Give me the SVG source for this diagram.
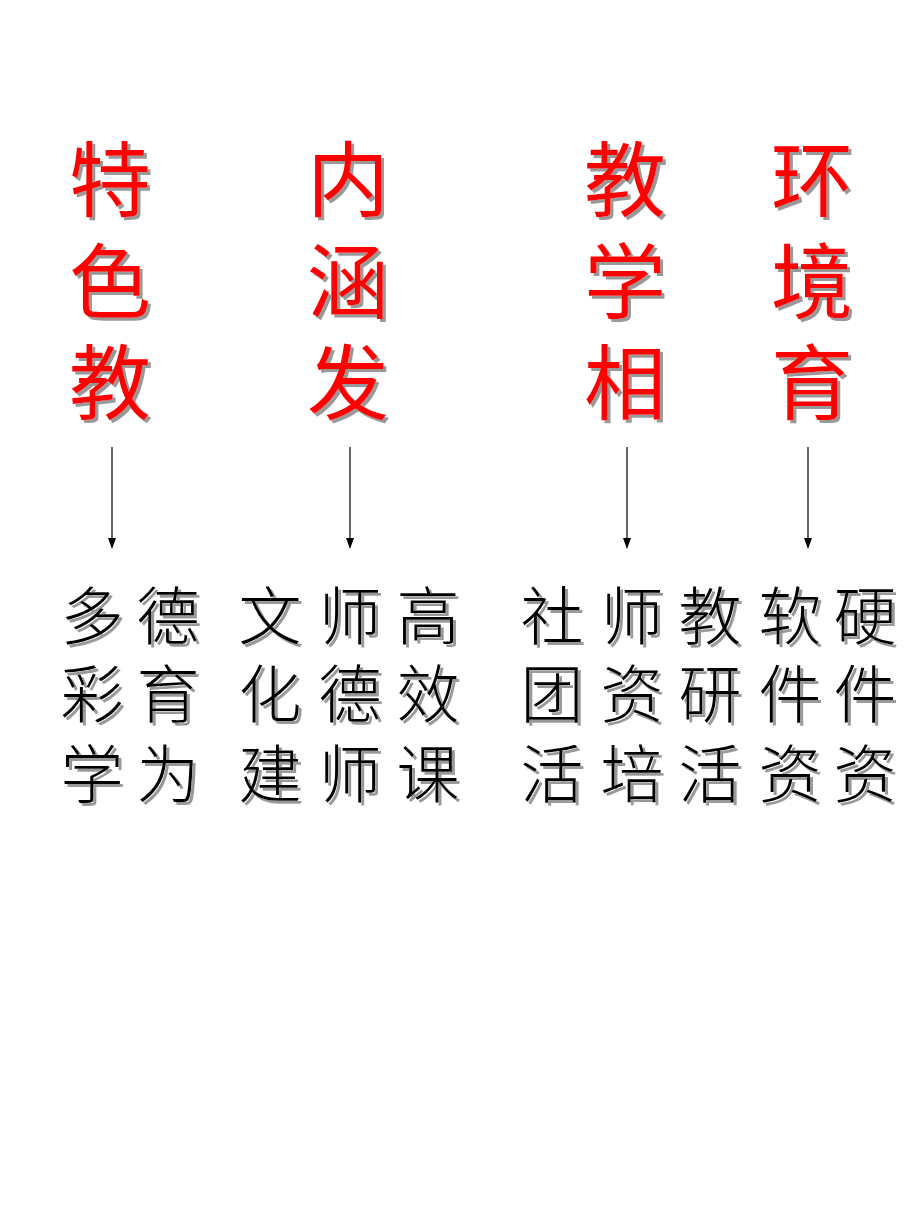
<svg xmlns="http://www.w3.org/2000/svg" width="920" height="1227" viewBox="0 0 920 1227">
<defs>
<filter id="sh" x="-20%" y="-20%" width="140%" height="140%">
<feOffset in="SourceAlpha" dx="3" dy="3" result="o"/>
<feFlood flood-color="#999"/>
<feComposite in2="o" operator="in" result="s"/>
<feMerge><feMergeNode in="s"/><feMergeNode in="SourceGraphic"/></feMerge>
</filter>
<style>
.r{font-family:"Noto Sans CJK SC",sans-serif;font-size:82px;fill:#ff0000;text-anchor:middle;filter:url(#sh)}
.b{font-family:"Noto Sans CJK SC",sans-serif;font-size:63px;font-weight:300;fill:#000;text-anchor:middle;filter:url(#sh)}
.c{stroke:#000;stroke-width:1.2}
</style>
</defs>
<rect width="920" height="1227" fill="#fff"/>
<g id="h1"><text class="r" x="110" y="210">特</text><text class="r" x="110" y="312">色</text><text class="r" x="110" y="413">教</text></g>
<g id="h2"><text class="r" x="348" y="210">内</text><text class="r" x="348" y="312">涵</text><text class="r" x="348" y="413">发</text></g>
<g id="h3"><text class="r" x="625" y="210">教</text><text class="r" x="625" y="312">学</text><text class="r" x="625" y="413">相</text></g>
<g id="h4"><text class="r" x="812" y="210">环</text><text class="r" x="812" y="312">境</text><text class="r" x="812" y="413">育</text></g>
<g id="connectors">
<line class="c" x1="112" y1="447" x2="112" y2="540"/><path d="M108,538 L116,538 L112,549 z"/>
<line class="c" x1="350" y1="447" x2="350" y2="540"/><path d="M346,538 L354,538 L350,549 z"/>
<line class="c" x1="627" y1="447" x2="627" y2="540"/><path d="M623,538 L631,538 L627,549 z"/>
<line class="c" x1="808" y1="447" x2="808" y2="540"/><path d="M804,538 L812,538 L808,549 z"/>
</g>
<g id="b1">
<text class="b" x="92" y="639">多</text><text class="b" x="168" y="639">德</text>
<text class="b" x="92" y="717">彩</text><text class="b" x="168" y="717">育</text>
<text class="b" x="92" y="797">学</text><text class="b" x="168" y="797">为</text>
</g>
<g id="b2">
<text class="b" x="270" y="639">文</text><text class="b" x="350" y="639">师</text><text class="b" x="428" y="639">高</text>
<text class="b" x="270" y="717">化</text><text class="b" x="350" y="717">德</text><text class="b" x="428" y="717">效</text>
<text class="b" x="270" y="797">建</text><text class="b" x="350" y="797">师</text><text class="b" x="428" y="797">课</text>
</g>
<g id="b3">
<text class="b" x="552" y="639">社</text><text class="b" x="632" y="639">师</text><text class="b" x="710" y="639">教</text>
<text class="b" x="552" y="717">团</text><text class="b" x="632" y="717">资</text><text class="b" x="710" y="717">研</text>
<text class="b" x="552" y="797">活</text><text class="b" x="632" y="797">培</text><text class="b" x="710" y="797">活</text>
</g>
<g id="b4">
<text class="b" x="790" y="639">软</text><text class="b" x="865" y="639">硬</text>
<text class="b" x="790" y="717">件</text><text class="b" x="865" y="717">件</text>
<text class="b" x="790" y="797">资</text><text class="b" x="865" y="797">资</text>
</g>
</svg>
